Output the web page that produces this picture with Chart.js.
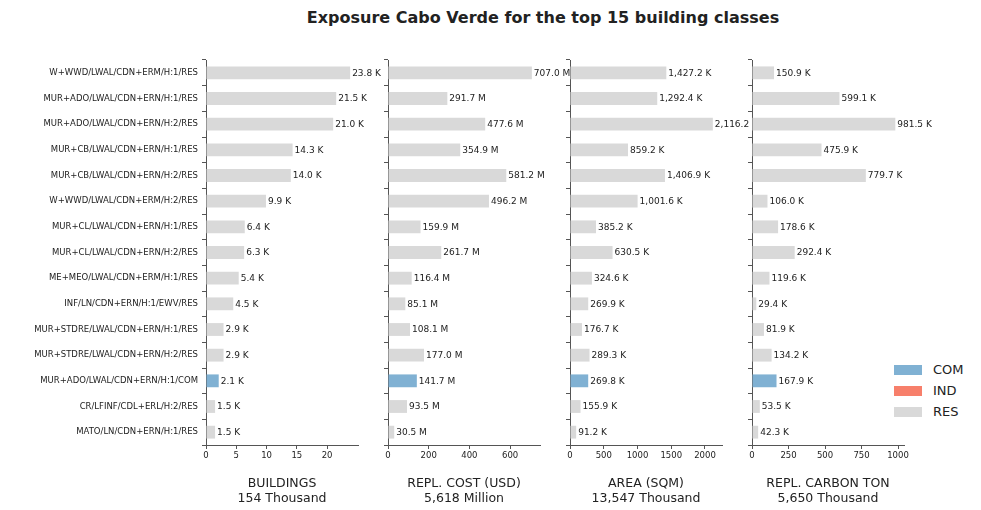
<!DOCTYPE html>
<html><head><meta charset="utf-8">
<script src="https://cdn.jsdelivr.net/npm/chart.js@4"></script>
<style>
body{margin:0;width:981px;height:510px;position:relative;background:#fff;font-family:"DejaVu Sans",sans-serif;overflow:hidden}
canvas{position:absolute;top:0}
#title{position:absolute;top:8px;left:0;width:1086px;text-align:center;font-weight:bold;font-size:16px;color:#222}
.lg{position:absolute;left:894px;font-size:13px;color:#222}
.lg span{display:inline-block;width:28px;height:10px;margin-right:11px;vertical-align:-1px}
</style></head><body>
<div id="title">Exposure Cabo Verde for the top 15 building classes</div>
<div class="lg" style="top:362px"><span style="background:#80b1d3"></span>COM</div>
<div class="lg" style="top:383px"><span style="background:#f77f6b"></span>IND</div>
<div class="lg" style="top:404px"><span style="background:#d9d9d9"></span>RES</div>
<canvas id="c0"></canvas><canvas id="c1"></canvas><canvas id="c2"></canvas><canvas id="c3"></canvas>
<script>
const categories=["W+WWD/LWAL/CDN+ERM/H:1/RES","MUR+ADO/LWAL/CDN+ERN/H:1/RES","MUR+ADO/LWAL/CDN+ERN/H:2/RES","MUR+CB/LWAL/CDN+ERN/H:1/RES","MUR+CB/LWAL/CDN+ERN/H:2/RES","W+WWD/LWAL/CDN+ERM/H:2/RES","MUR+CL/LWAL/CDN+ERN/H:1/RES","MUR+CL/LWAL/CDN+ERN/H:2/RES","ME+MEO/LWAL/CDN+ERM/H:1/RES","INF/LN/CDN+ERN/H:1/EWV/RES","MUR+STDRE/LWAL/CDN+ERN/H:1/RES","MUR+STDRE/LWAL/CDN+ERN/H:2/RES","MUR+ADO/LWAL/CDN+ERN/H:1/COM","CR/LFINF/CDL+ERL/H:2/RES","MATO/LN/CDN+ERN/H:1/RES"];
const occupancy=["RES","RES","RES","RES","RES","RES","RES","RES","RES","RES","RES","RES","COM","RES","RES"];
const buildings=[23.8,21.5,21.0,14.3,14.0,9.9,6.4,6.3,5.4,4.5,2.9,2.9,2.1,1.5,1.5];
const replCost=[707.0,291.7,477.6,354.9,581.2,496.2,159.9,261.7,116.4,85.1,108.1,177.0,141.7,93.5,30.5];
const area=[1427.2,1292.4,2116.2,859.2,1406.9,1001.6,385.2,630.5,324.6,269.9,176.7,289.3,269.8,155.9,91.2];
const carbon=[150.9,599.1,981.5,475.9,779.7,106.0,178.6,292.4,119.6,29.4,81.9,134.2,167.9,53.5,42.3];
const panels=[
 {data:buildings,unit:"K",title:["BUILDINGS","154 Thousand"],max:25.1,ticks:[0,5,10,15,20],left:206,right:358},
 {data:replCost,unit:"M",title:["REPL. COST (USD)","5,618 Million"],max:747,ticks:[0,200,400,600],left:388,right:540},
 {data:area,unit:"K",title:["AREA (SQM)","13,547 Thousand"],max:2252,ticks:[0,500,1000,1500,2000],left:570,right:722},
 {data:carbon,unit:"K",title:["REPL. CARBON TON","5,650 Thousand"],max:1041,ticks:[0,250,500,750,1000],left:752,right:904}
];
const fmt=v=>v.toLocaleString("en-US",{minimumFractionDigits:1,maximumFractionDigits:1});
panels.forEach((p,i)=>{
 const axW=i===0?206:12;
 const cvLeft=p.left-axW;
 const cv=document.getElementById("c"+i);
 const extra=60;
 const w=axW+(p.right-p.left)+extra;
 cv.style.left=cvLeft+"px";cv.width=w;cv.height=510;cv.style.width=w+"px";cv.style.height="510px";
 const labelPlugin={id:"lbl",afterDatasetsDraw(ch){const c=ch.ctx;c.save();c.font="9px 'DejaVu Sans'";c.fillStyle="#222";c.textBaseline="middle";
   p.data.forEach((v,k)=>{const x=ch.scales.x.getPixelForValue(v),y=ch.scales.y.getPixelForValue(k);c.fillText(fmt(v)+" "+p.unit,x+2,y+0.5);});c.restore();}};
 new Chart(cv,{type:"bar",
  data:{labels:categories,datasets:["COM","IND","RES"].map((o,j)=>({label:o,data:p.data.map((v,k)=>occupancy[k]===o?v:null),
    backgroundColor:["#80b1d3","#f77f6b","#d9d9d9"][j],categoryPercentage:0.5,barPercentage:1}))},
  options:{indexAxis:"y",responsive:false,animation:false,devicePixelRatio:1,
   layout:{padding:{top:60,right:extra,left:0,bottom:0}},
   plugins:{legend:{display:false},tooltip:{enabled:false}},
   scales:{
    y:{stacked:true,afterFit:s=>{s.width=axW},border:{color:"#555"},grid:{display:true,drawOnChartArea:false,tickLength:4,color:"#555"},
       ticks:{display:i===0,color:"#222",font:{size:8.5,family:"DejaVu Sans"},padding:4,autoSkip:false}},
    x:{stacked:true,min:0,max:p.max,afterFit:s=>{s.height=65},border:{color:"#555"},
       grid:{display:true,drawOnChartArea:false,tickLength:4,color:"#555"},
       afterBuildTicks:s=>{s.ticks=p.ticks.map(v=>({value:v}))},
       ticks:{color:"#222",font:{size:8.5,family:"DejaVu Sans"},maxRotation:0,padding:2,callback:v=>String(v)},
       title:{display:true,text:p.title,color:"#222",font:{size:12.5,family:"DejaVu Sans",lineHeight:1.2},padding:{top:6}}}
   }},
  plugins:[labelPlugin]});
});
</script></body></html>
